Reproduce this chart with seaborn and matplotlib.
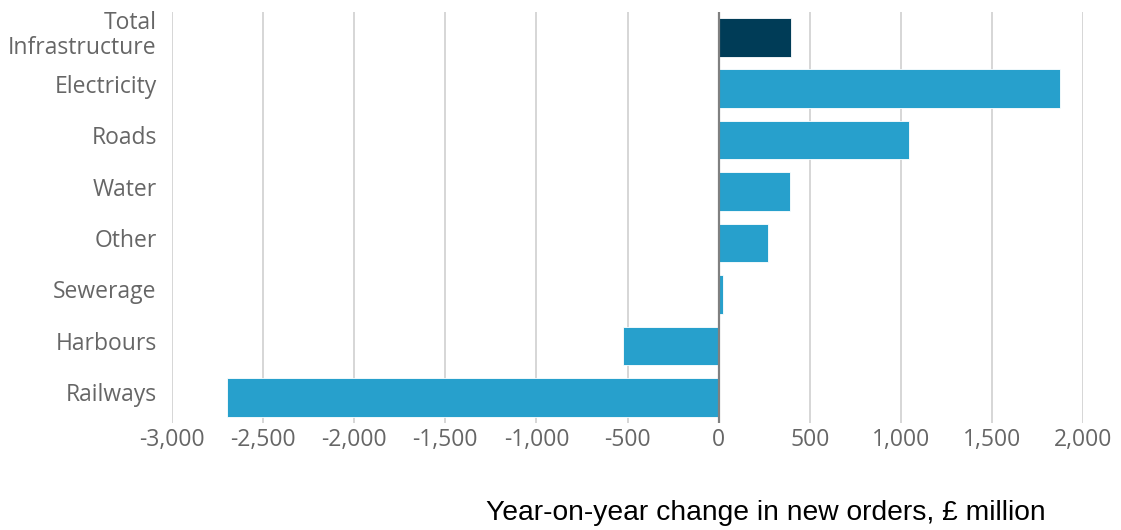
import pandas as pd
import seaborn as sns
import matplotlib.pyplot as plt
import matplotlib.transforms as mtransforms
from matplotlib.ticker import FuncFormatter

# datos
categorias = ['Total\nInfrastructure', 'Electricity', 'Roads', 'Water', 'Other',
              'Sewerage', 'Harbours', 'Railways']
cambios = [395, 1872, 1043, 390, 272, 25, -525, -2700]
colores = ['#003c57', '#27a0cc', '#27a0cc', '#27a0cc', '#27a0cc',
           '#27a0cc', '#27a0cc', '#27a0cc']
ticks_x = [-3000, -2500, -2000, -1500, -1000, -500, 0, 500, 1000, 1500, 2000]

datos = pd.DataFrame({'Categoria': categorias, 'Cambio': cambios})

sns.set_style('white')
plt.rcParams['font.family'] = ['Open Sans', 'DejaVu Sans']

fig = plt.figure(figsize=(11.21, 5.30), dpi=100)
ax = fig.add_axes([172 / 1121, 0.202, 911 / 1121, 0.776])

sns.barplot(data=datos, x='Cambio', y='Categoria', hue='Categoria', palette=colores,
            legend=False, width=0.75, saturation=1, edgecolor='#ffffff', linewidth=0.6,
            ax=ax, zorder=3)

ax.set_xlim(-3000, 2000)
ax.set_ylim(7.5, -0.5)
ax.set_xticks(ticks_x)
ax.xaxis.set_major_formatter(FuncFormatter(lambda v, p: f'{int(v):,}'))
ax.grid(axis='x', color='#d0d0d0', linewidth=1.2, zorder=0)
ax.axvline(0, color='#808080', linewidth=1.6, zorder=4)
for lado in ['top', 'right', 'bottom', 'left']:
    ax.spines[lado].set_visible(False)

ax.tick_params(axis='both', length=0, labelsize=16.5, labelcolor='#666666')
ax.tick_params(axis='x', pad=4)
ax.tick_params(axis='y', pad=11)

# etiquetas un poco mas arriba que el centro de la barra
subir = mtransforms.ScaledTranslation(0, 5 / 100, fig.dpi_scale_trans)
for t in ax.get_yticklabels():
    t.set_linespacing(1.05)
    t.set_transform(t.get_transform() + subir)
ax.set_xlabel('')
ax.set_ylabel('')

fig.text(766 / 1121, 1 - 513 / 530, 'Year-on-year change in new orders, £ million',
         ha='center', va='center', fontsize=20.3, color='black',
         family=['Liberation Sans', 'DejaVu Sans'])

plt.savefig('out.png', dpi=100)
